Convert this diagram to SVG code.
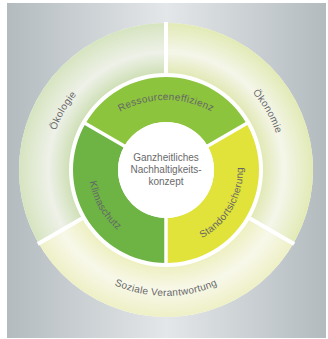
<svg xmlns="http://www.w3.org/2000/svg" width="328" height="339" viewBox="0 0 328 339">
  <style>
    .lbl { font-family: "Liberation Sans", Arial, sans-serif; font-size: 10px; fill: #666666; letter-spacing: 0.3px; }
    .ctr { font-family: "Liberation Sans", Arial, sans-serif; font-size: 10px; fill: #6a6a6a; text-anchor: middle; }
    .sep { stroke: #ffffff; stroke-width: 4; fill: none; }
    .sepi { stroke: #ffffff; stroke-width: 3.5; fill: none; }
  </style>
  <defs>
    <linearGradient id="bg" x1="0" y1="0" x2="1" y2="0">
      <stop offset="0" stop-color="#b3bbbf"/>
      <stop offset="0.5" stop-color="#e4e7e9"/>
      <stop offset="1" stop-color="#b3bbbf"/>
    </linearGradient>
    <radialGradient id="gOeko" gradientUnits="userSpaceOnUse" cx="166" cy="170" r="147">
      <stop offset="0.66" stop-color="#d0e0b8"/>
      <stop offset="0.8" stop-color="#eef1e8"/>
      <stop offset="1" stop-color="#d6e4c0"/>
    </radialGradient>
    <radialGradient id="gOekon" gradientUnits="userSpaceOnUse" cx="166" cy="170" r="147">
      <stop offset="0.66" stop-color="#e2e9b6"/>
      <stop offset="0.8" stop-color="#f5f6ea"/>
      <stop offset="1" stop-color="#e2eab6"/>
    </radialGradient>
    <radialGradient id="gSoz" gradientUnits="userSpaceOnUse" cx="166" cy="170" r="147">
      <stop offset="0.66" stop-color="#eef0c2"/>
      <stop offset="0.82" stop-color="#f8f8ea"/>
      <stop offset="1" stop-color="#eef0c6"/>
    </radialGradient>
    <path id="pOeko" d="M 64.68 228.5 A 117 117 0 0 1 166 53"/>
    <path id="pOekon" d="M 166 54 A 116 116 0 0 1 266.46 228"/>
    <path id="pSoz" d="M 56.88 233 A 126 126 0 0 0 275.12 233"/>
    <path id="pRes" d="M 71 195 A 95 95 0 0 1 261 195"/>
    <path id="pKlima" d="M 99.32 131.5 A 77 77 0 0 0 166 247"/>
    <path id="pStand" d="M 166 247 A 77 77 0 0 0 232.68 131.5"/>
  </defs>

  <rect x="0" y="0" width="328" height="339" fill="#ffffff"/>
  <rect id="background" x="7" y="3" width="319" height="335" fill="url(#bg)"/>
  <circle cx="166" cy="170" r="147" fill="#ffffff"/>

  <g id="oekologie">
    <path d="M 38.69 243.5 A 147 147 0 0 1 166 23 L 166 73 A 97 97 0 0 0 82 218.5 Z" fill="url(#gOeko)"/>
    <text class="lbl" text-anchor="middle"><textPath href="#pOeko" startOffset="50%">Ökologie</textPath></text>
  </g>
  <g id="oekonomie">
    <path d="M 166 23 A 147 147 0 0 1 293.31 243.5 L 250 218.5 A 97 97 0 0 0 166 73 Z" fill="url(#gOekon)"/>
    <text class="lbl" text-anchor="middle"><textPath href="#pOekon" startOffset="50%">Ökonomie</textPath></text>
  </g>
  <g id="soziale-verantwortung">
    <path d="M 293.31 243.5 A 147 147 0 0 1 38.69 243.5 L 82 218.5 A 97 97 0 0 0 250 218.5 Z" fill="url(#gSoz)"/>
    <text class="lbl" text-anchor="middle"><textPath href="#pSoz" startOffset="50%">Soziale Verantwortung</textPath></text>
  </g>

  <g id="ressourceneffizienz">
    <path d="M 85.46 123.5 A 93 93 0 0 1 246.54 123.5 L 207.57 146 A 48 48 0 0 0 124.43 146 Z" fill="#8cc43e"/>
    <text class="lbl" text-anchor="middle"><textPath href="#pRes" startOffset="50%">Ressourceneffizienz</textPath></text>
  </g>
  <g id="standortsicherung">
    <path d="M 246.54 123.5 A 93 93 0 0 1 166 263 L 166 218 A 48 48 0 0 0 207.57 146 Z" fill="#e2e33a"/>
    <text class="lbl" text-anchor="middle"><textPath href="#pStand" startOffset="50%">Standortsicherung</textPath></text>
  </g>
  <g id="klimaschutz">
    <path d="M 166 263 A 93 93 0 0 1 85.46 123.5 L 124.43 146 A 48 48 0 0 0 166 218 Z" fill="#6db445"/>
    <text class="lbl" text-anchor="middle"><textPath href="#pKlima" startOffset="50%">Klimaschutz</textPath></text>
  </g>

  <g id="separators">
    <line class="sep" x1="166" y1="22" x2="166" y2="75"/>
    <line class="sep" x1="294.2" y1="244" x2="248.3" y2="217.5"/>
    <line class="sep" x1="37.8" y1="244" x2="83.7" y2="217.5"/>
    <line class="sepi" x1="84.6" y1="123" x2="126" y2="147"/>
    <line class="sepi" x1="247.4" y1="123" x2="206" y2="147"/>
    <line class="sepi" x1="166" y1="216" x2="166" y2="264"/>
  </g>

  <g id="center">
    <circle cx="166" cy="170" r="48" fill="#ffffff"/>
    <text class="ctr" x="166" y="161">Ganzheitliches</text>
    <text class="ctr" x="166" y="173">Nachhaltigkeits-</text>
    <text class="ctr" x="166" y="185">konzept</text>
  </g>
</svg>
